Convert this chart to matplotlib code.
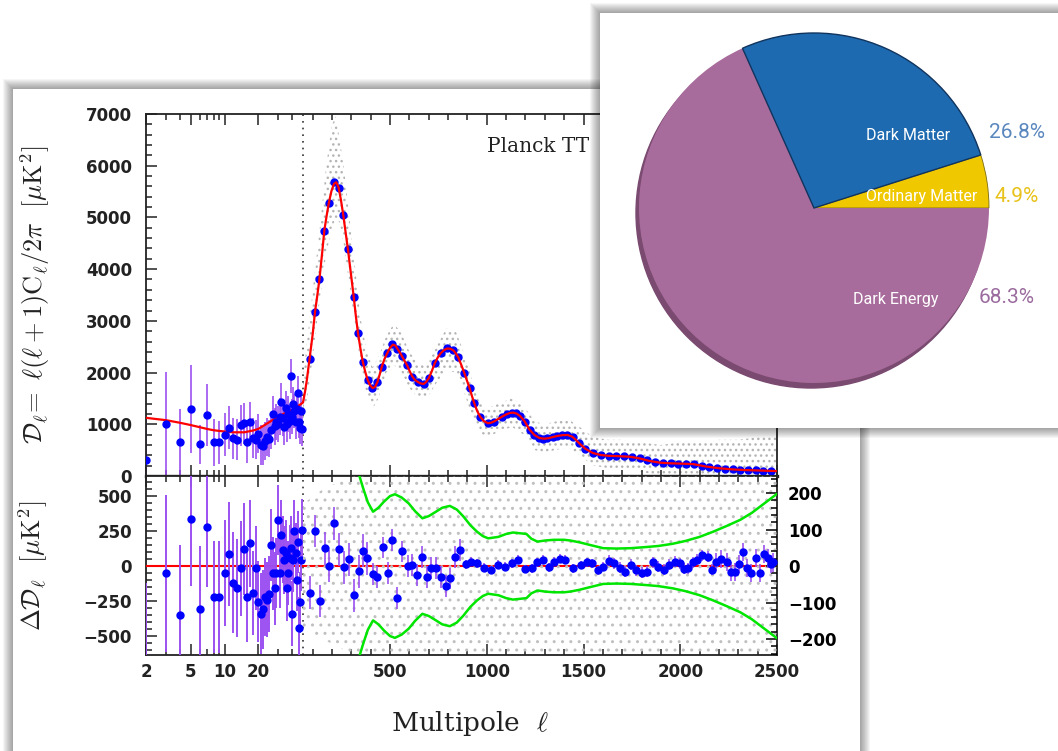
import numpy as np
import matplotlib.pyplot as plt
from matplotlib.patches import Rectangle, Circle
from matplotlib.ticker import FixedLocator, NullFormatter

W, H = 1058, 751

# ---- Planck TT spectrum ----
# best-fit curve: (ell, D_ell)
theory = np.array([
    [2, 1125], [3, 1080], [4, 1030], [5, 985], [6, 945], [7, 910], [8, 885], [10, 860],
    [12, 845], [15, 845], [18, 880], [20, 910], [25, 1040], [30, 1150], [35, 1220],
    [40, 1280], [45, 1350], [50, 1420], [60, 1620], [70, 1860], [84, 2270], [100, 2740],
    [112, 3170], [125, 3520], [135, 3810], [150, 4350], [160, 4740], [172, 5030],
    [184, 5290], [197, 5510], [210, 5650], [222, 5680], [234, 5580], [246, 5340],
    [258, 5050], [270, 4720], [282, 4390], [297, 3930], [312, 3470], [323, 3100],
    [334, 2770], [347, 2460], [359, 2210], [372, 2010], [384, 1860], [396, 1760],
    [410, 1700], [422, 1720], [435, 1820], [446, 1960], [457, 2110], [471, 2260],
    [486, 2380], [500, 2480], [515, 2540], [528, 2520], [540, 2450], [552, 2380],
    [564, 2300], [576, 2220], [588, 2140], [600, 2040], [614, 1930], [628, 1860],
    [643, 1820], [658, 1790], [674, 1780], [687, 1820], [700, 1890], [715, 2020],
    [731, 2180], [746, 2290], [761, 2370], [777, 2430], [795, 2465], [812, 2460],
    [827, 2430], [840, 2370], [853, 2290], [868, 2150], [884, 1990], [898, 1840],
    [911, 1700], [923, 1550], [935, 1410], [950, 1260], [965, 1150], [985, 1060],
    [1006, 1020], [1022, 1030], [1040, 1060], [1060, 1105], [1080, 1150], [1100, 1190],
    [1120, 1220], [1137, 1225], [1155, 1205], [1172, 1160], [1195, 1060], [1221, 895],
    [1247, 790], [1272, 735], [1295, 722], [1318, 730], [1342, 755], [1366, 775],
    [1392, 790], [1418, 793], [1442, 760], [1460, 700], [1480, 625], [1510, 525],
    [1548, 445], [1590, 405], [1630, 390], [1680, 384], [1740, 372], [1790, 340],
    [1840, 292], [1895, 258], [1950, 245], [2000, 240], [2067, 230], [2130, 185],
    [2205, 148], [2280, 125], [2343, 114], [2420, 104], [2500, 95]]).T

# low multipoles 2..49 with error bars
low_ell = list(range(2, 50))
low_D = [300, 1010, 650, 1290, 610, 1180, 650, 650, 800, 935, 730, 700, 980, 1020, 650, 1050,
         730, 700, 820, 600, 580, 670, 760, 720, 880, 1190, 960, 1050, 1000, 1150, 1440, 1115,
         940, 1310, 1000, 1200, 1060, 1930, 1150, 1400, 1250, 1050, 1300, 1610, 1050, 930,
         1250, 900]
low_err = [800, 1000, 650, 850, 380, 600, 450, 420, 420, 410, 400, 400, 400, 400, 390, 390,
           390, 380, 380, 380, 370, 370, 370, 360, 360, 360, 360, 350, 350, 350, 350, 350,
           340, 340, 340, 340, 340, 330, 330, 330, 330, 330, 320, 320, 320, 320, 320, 320]

# binned points ell >= 50
binned = np.array([
    [84, 2263], [112, 3172], [135, 3810], [160, 4744], [184, 5286], [210, 5686], [234, 5570],
    [258, 5048], [282, 4390], [312, 3468], [334, 2766], [359, 2211], [384, 1857], [408, 1696],
    [435, 1824], [457, 2114], [486, 2373], [512, 2553], [537, 2450], [562, 2330], [588, 2147],
    [614, 1920], [643, 1824], [674, 1779], [700, 1890], [731, 2180], [761, 2373], [792, 2470],
    [823, 2437], [853, 2307], [884, 1986], [911, 1696], [935, 1406], [965, 1147], [1006, 1019],
    [1037, 1050], [1078, 1147], [1104, 1200], [1130, 1224], [1150, 1210], [1171, 1160],
    [1195, 1040], [1221, 890], [1246, 790], [1272, 729], [1293, 720], [1313, 729], [1340, 755],
    [1364, 774], [1390, 790], [1415, 793], [1445, 745], [1476, 632], [1510, 520], [1548, 439],
    [1590, 405], [1630, 390], [1670, 385], [1710, 380], [1750, 372], [1790, 345], [1830, 305],
    [1870, 270], [1910, 255], [1950, 245], [1990, 240], [2030, 235], [2070, 225], [2110, 195],
    [2150, 170], [2190, 155], [2230, 145], [2270, 130], [2310, 122], [2350, 112], [2390, 110],
    [2430, 105], [2470, 100]]).T

# grey unbinned cloud: ell, lower, upper
cloud_top = np.array([
    [50, 1000, 1900], [80, 1700, 2900], [110, 2600, 3900], [140, 3500, 4900], [170, 4300, 6000],
    [200, 4800, 6800], [220, 5000, 6950], [240, 4900, 6500], [260, 4500, 6000], [290, 3700, 5000],
    [320, 2900, 4000], [350, 2100, 3000], [380, 1550, 2400], [410, 1300, 2100], [440, 1500, 2300],
    [480, 2000, 2700], [520, 2150, 2950], [560, 2000, 2750], [600, 1700, 2400], [650, 1500, 2150],
    [690, 1500, 2150], [740, 1800, 2500], [790, 2050, 2850], [840, 2000, 2800], [880, 1650, 2400],
    [920, 1200, 1900], [960, 850, 1450], [1000, 750, 1300], [1060, 850, 1400], [1130, 950, 1500],
    [1190, 800, 1350], [1250, 500, 1050], [1300, 450, 1000], [1350, 500, 1050], [1420, 550, 1100],
    [1480, 400, 950], [1550, 200, 750], [1630, 150, 700], [1700, 150, 700], [1800, 80, 650],
    [1900, 0, 600], [2000, 0, 650], [2100, 0, 650], [2200, 0, 700], [2300, 0, 700],
    [2400, 0, 750], [2500, 0, 800]]).T

# ---- residuals ----
res_low = [-820, -52, -347, 337, -309, 278, -220, -220, -52, 86, -120, -155, -17, 120, -220, 163,
           -191, -17, -256, -340, -310, -220, -240, -200, 150, -52, -160, -52, 330, -52, 222, 115,
           43, 91, -155, -52, 60, 130, -340, 43, 250, 90, -100, 170, -445, -260, 40, 260]
res_low_err = [700, 560, 500, 480, 450, 430, 400, 400, 380, 370, 360, 350, 340, 330, 320, 310,
               300, 300, 290, 290, 280, 280, 270, 270, 260, 260, 260, 250, 250, 250, 250, 240,
               240, 240, 240, 230, 230, 230, 230, 230, 220, 220, 220, 220, 220, 220, 220, 220]

# ell, residual, error (right-hand scale)
res_hi = np.array([
    [86, -73, 45], [114, 96, 45], [137, -96, 45], [162, 49, 45], [185, 0, 45], [210, 117, 45],
    [235, 46, 45], [260, -3, 45], [286, 18, 45], [313, -80, 45], [338, -14, 45], [360, 42, 45],
    [383, 21, 45], [412, -23, 30], [435, -29, 30], [461, 51, 30], [490, -19, 30], [511, 72, 30],
    [537, -87, 30], [562, 40, 30], [591, 0, 30], [612, 2, 30], [640, -25, 30], [663, 26, 30],
    [689, -29, 30], [714, -6, 30], [740, -6, 30], [762, -29, 30], [788, -55, 30], [811, -34, 30],
    [836, 24, 30], [862, 44, 30], [890, 5, 12], [920, 12, 12], [950, 7, 12], [985, -5, 12],
    [1022, -11, 12], [1057, 4, 12], [1092, -2, 12], [1128, 8, 12], [1163, 17, 12], [1198, -8, 12],
    [1234, -6, 12], [1262, 10, 12], [1291, 17, 12], [1320, -3, 12], [1347, 12, 12], [1376, 20, 12],
    [1404, 17, 12], [1446, -6, 12], [1489, 3, 12], [1517, 10, 12], [1546, 7, 12], [1574, -12, 12],
    [1602, -2, 12], [1630, 14, 15], [1659, 7, 15], [1688, -5, 15], [1716, -16, 15], [1744, 3, 15],
    [1772, -11, 15], [1800, -18, 15], [1829, -16, 15], [1858, 10, 15], [1886, -2, 15],
    [1915, -10, 15], [1943, 3, 15], [1971, 12, 15], [1999, 7, 15], [2020, -8, 15], [2042, -6, 15],
    [2064, 10, 15], [2085, 17, 15], [2113, 30, 15], [2141, 26, 15], [2162, -10, 15],
    [2183, 12, 25], [2212, 20, 25], [2240, 12, 25], [2262, -15, 25], [2283, -16, 25], [2304, 5, 25],
    [2325, 39, 25], [2347, -6, 25], [2368, -20, 25], [2390, 22, 25], [2410, -20, 25],
    [2431, 33, 25], [2453, 21, 25], [2470, 5, 25], [2481, 10, 25]]).T

# green envelope (right-hand scale), drawn as +/-
green = np.array([
    [340, 250], [360, 215], [385, 175], [412, 149], [440, 160], [469, 177], [500, 192],
    [525, 197], [560, 188], [596, 172], [630, 150], [667, 131], [700, 137], [737, 149],
    [770, 160], [809, 165], [845, 155], [879, 136], [915, 112], [950, 94], [980, 82],
    [1007, 76], [1060, 80], [1100, 88], [1135, 92], [1170, 90], [1205, 88], [1230, 75],
    [1262, 67], [1300, 70], [1347, 72], [1400, 72], [1432, 70], [1480, 65], [1532, 58],
    [1602, 49], [1670, 48], [1744, 49], [1820, 52], [1886, 55], [1960, 61], [2028, 69],
    [2100, 80], [2169, 94], [2240, 110], [2311, 127], [2370, 146], [2425, 168], [2460, 182],
    [2500, 198]]).T

# grey residual cloud (right-hand scale)
cloud_bot = np.array([
    [50, -170, 170], [150, -200, 210], [300, -240, 246], [2500, -245, 248]]).T

# ---- energy budget pie ----
pie_names = ['Ordinary Matter', 'Dark Matter', 'Dark Energy']
pie_share = [4.9, 26.8, 68.3]
pie_colors = ['#f0c800', '#1e6ab0', '#a86c9c']
pie_text_colors = ['#e8c21a', '#5a87be', '#9b6c9e']

BLUE, PURPLE, RED, GREEN = '#0000ff', '#9b50f0', '#ff0000', '#00e600'

plt.rcParams['mathtext.fontset'] = 'cm'
TICKFONT = dict(family='DejaVu Sans', weight='bold', size=12)


def fx(x):
    return x / W


def fy(y):
    return 1 - y / H


def card(fig, x0, y0, x1, y1, z):
    # white sheet with a soft grey drop shadow
    for k in range(10, 0, -1):
        fig.add_artist(Rectangle((fx(x0 - k), fy(y1 + k)), (x1 - x0 + 2 * k) / W,
                                 (y1 - y0 + 2 * k) / H, facecolor='black',
                                 edgecolor='none', alpha=0.04, zorder=z - 0.5))
    fig.add_artist(Rectangle((fx(x0), fy(y1)), (x1 - x0) / W, (y1 - y0) / H,
                             facecolor='white', edgecolor='none', zorder=z))


# log for ell < 50, linear above
LOG_W, LIN_W = 157.0, 474.0


def fwd(l):
    l = np.asarray(l, dtype=float)
    lg = LOG_W * np.log10(np.clip(l, 1e-3, None) / 2) / np.log10(25)
    ln = LOG_W + (l - 50) * LIN_W / 2450
    return np.where(l < 50, lg, ln)


def inv(u):
    u = np.asarray(u, dtype=float)
    lg = 2 * 25 ** (np.clip(u, -1e4, LOG_W) / LOG_W)
    ln = 50 + (u - LOG_W) * 2450 / LIN_W
    return np.where(u < LOG_W, lg, ln)


x_major = [2, 5, 10, 20, 500, 1000, 1500, 2000, 2500]
x_minor = [3, 4, 6, 7, 8, 9, 30, 40] + [m for m in range(100, 2500, 100) if m % 500]


def style(ax):
    ax.set_xscale('function', functions=(fwd, inv))
    ax.set_xlim(2, 2500)
    ax.xaxis.set_major_locator(FixedLocator(x_major))
    ax.xaxis.set_minor_locator(FixedLocator(x_minor))
    ax.xaxis.set_minor_formatter(NullFormatter())
    ax.tick_params(which='both', direction='in', top=True, width=1.1, colors='#222222')
    ax.tick_params(which='major', length=8)
    ax.tick_params(which='minor', length=4)
    for s in ax.spines.values():
        s.set_linewidth(1.3)
        s.set_color('#222222')
    ax.axvline(50, color='#333333', ls=(0, (1, 3)), lw=1.2, zorder=2)


fig = plt.figure(figsize=(W / 100, H / 100), dpi=100, facecolor='white')

card(fig, 13, 89, 860, 800, -2)
card(fig, 600, 13, 1080, 428, 5)

# ---- top panel ----
ax = fig.add_axes([fx(146), fy(476), 631 / W, 362 / H])
style(ax)
ax.set_ylim(0, 7000)
ax.yaxis.set_major_locator(FixedLocator(range(0, 7001, 1000)))
ax.yaxis.set_minor_locator(FixedLocator(range(0, 7001, 200)))
ax.tick_params(right=True, labelbottom=False, pad=10)
ax.spines['bottom'].set_linewidth(2.4)
ax.set_yticks(range(0, 7001, 1000), [str(v) for v in range(0, 7001, 1000)], **TICKFONT)

ax.fill_between(cloud_top[0], cloud_top[1], cloud_top[2], facecolor='none',
                edgecolor='#b4b4b4', hatch='...', linewidth=0, zorder=1)
ax.errorbar(low_ell, low_D, yerr=low_err, fmt='none', ecolor=PURPLE, elinewidth=1.4,
            alpha=0.85, zorder=2)
ax.plot(binned[0], binned[1], 'o', color=BLUE, ms=5, zorder=3)
ax.plot(theory[0], theory[1], color=RED, lw=1.6, zorder=4)
ax.plot(low_ell, low_D, 'o', color=BLUE, ms=5, zorder=5)
ax.text(0.54, 0.895, 'Planck TT', transform=ax.transAxes, fontsize=14.5,
        family='DejaVu Serif', va='baseline', color='#222222')
ax.set_ylabel(r'$\mathcal{D}_\ell\!=\ \ell(\ell+1)\mathrm{C}_\ell/2\pi\ \ [\mu\mathrm{K}^2]$',
              fontsize=19, color='#222222')
ax.yaxis.set_label_coords(-0.149, 0.5)

# ---- residual panel ----
ax2 = fig.add_axes([fx(146), fy(655), 631 / W, 179 / H])
style(ax2)
ax2.set_ylim(-636, 643)
ax2.yaxis.set_minor_locator(FixedLocator(range(-600, 601, 50)))
ax2.tick_params(right=False, pad=10)
ax2.tick_params(axis='x', pad=6)
ax2.set_yticks([-500, -250, 0, 250, 500], ['\u2212500', '\u2212250', '0', '250', '500'], **TICKFONT)
ax2.set_xticks(x_major, [str(v) for v in x_major], **TICKFONT)
ax2.axhline(0, color=RED, lw=1.5, zorder=4)
ax2.errorbar(low_ell, res_low, yerr=res_low_err, fmt='o', color=BLUE, ms=5,
             ecolor=PURPLE, elinewidth=1.4, zorder=5)
ax2.set_ylabel(r'$\Delta\mathcal{D}_\ell\ \ [\mu\mathrm{K}^2]$', fontsize=19, color='#222222')
ax2.yaxis.set_label_coords(-0.152, 0.5)
ax2.set_xlabel(r'Multipole  $\ell$', fontsize=19, family='DejaVu Serif', color='#222222')
ax2.xaxis.set_label_coords(0.513, -0.30)

axr = ax2.twinx()
axr.set_ylim(-244, 247)
axr.yaxis.set_minor_locator(FixedLocator(range(-240, 241, 20)))
axr.tick_params(which='both', direction='in', width=1.1, pad=8)
axr.tick_params(which='major', length=8)
axr.tick_params(which='minor', length=4)
axr.set_yticks([-200, -100, 0, 100, 200], ['\u2212200', '\u2212100', '0', '100', '200'], **TICKFONT)
for s in axr.spines.values():
    s.set_visible(False)
axr.fill_between(cloud_bot[0], cloud_bot[1], cloud_bot[2], facecolor='none',
                 edgecolor='#c0c0c0', hatch='..', linewidth=0, zorder=1)
axr.plot(green[0], green[1], color=GREEN, lw=1.8, zorder=3)
axr.plot(green[0], -green[1], color=GREEN, lw=1.8, zorder=3)
axr.errorbar(res_hi[0], res_hi[1], yerr=res_hi[2], fmt='o', color=BLUE, ms=5,
             ecolor=PURPLE, elinewidth=1.2, zorder=5)

# ---- pie card ----
axp = fig.add_axes([fx(600), fy(428), 458 / W, 416 / H], zorder=6)
cx, cy, r = 814, H - 208, 175
axp.add_patch(Circle((cx - 3, cy - 5), r, color='#7a4a70'))
wedges, _ = axp.pie(pie_share, colors=pie_colors, startangle=0, counterclock=True,
                    center=(cx, cy), radius=r)
wedges[1].set_edgecolor('#10345e')
wedges[1].set_linewidth(1.0)
wedges[1].set_zorder(3)
wedges[0].set_edgecolor('#7a6a10')
wedges[0].set_linewidth(0.6)
axp.set_xlim(600, 1058)
axp.set_ylim(H - 428, H - 12)
axp.axis('off')

name_pos = [(922, 197), (908, 135), (896, 300)]
pct_pos = [(1017, 196), (1017, 133), (1007, 298)]
for name, share, (nx, ny), (px, py), tc in zip(pie_names, pie_share, name_pos, pct_pos,
                                                pie_text_colors):
    axp.text(nx, H - ny, name, color='white', ha='center', va='center', fontsize=11.5,
             family=['Roboto', 'DejaVu Sans'])
    axp.text(px, H - py, f'{share}%', color=tc, ha='center', va='center', fontsize=15,
             family=['Roboto', 'DejaVu Sans'])

fig.savefig('out.png', dpi=100)
